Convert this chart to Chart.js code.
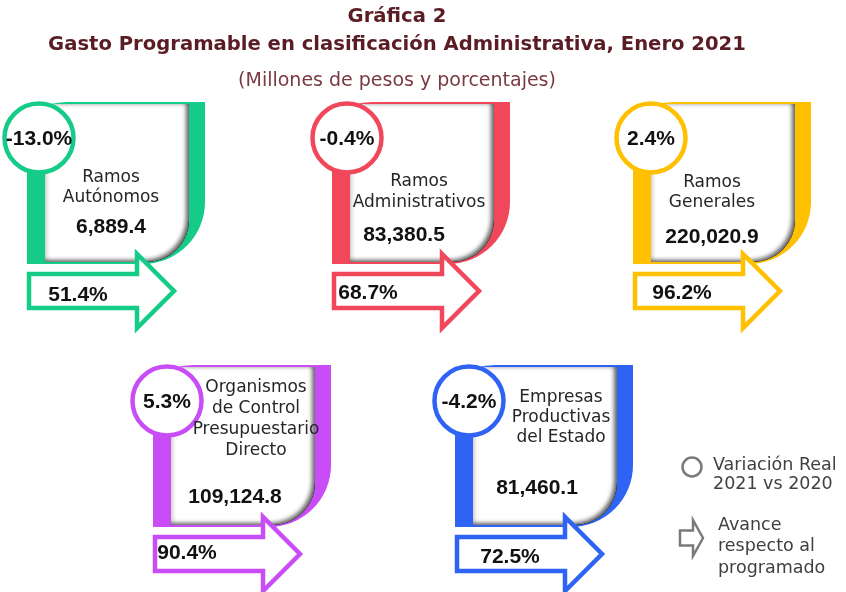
<!DOCTYPE html>
<html>
<head>
<meta charset="utf-8">
<script src="https://cdn.jsdelivr.net/npm/chart.js@4.4.1/dist/chart.umd.min.js"></script>
<style>
    html, body { margin: 0; padding: 0; background: #fff; }
    canvas { display: block; }
</style>
</head>
<body>
<canvas id="grafica" width="846" height="592"></canvas>
<script>
// Datos de la gráfica
var ramos = [
    ['Ramos', 'Autónomos'],
    ['Ramos', 'Administrativos'],
    ['Ramos', 'Generales'],
    ['Organismos', 'de Control', 'Presupuestario', 'Directo'],
    ['Empresas', 'Productivas', 'del Estado']
];
var gasto = [6889.4, 83380.5, 220020.9, 109124.8, 81460.1];
var variacionReal = [-13.0, -0.4, 2.4, 5.3, -4.2];
var avance = [51.4, 68.7, 96.2, 90.4, 72.5];

var colores = ['#14cc88', '#f0475b', '#ffc000', '#c94df6', '#2f63f6'];

// Posición de cada tarjeta (franja izquierda, borde superior) y desplazamientos de textos
var tarjetas = [
    {L: 27, T: 102, cx: 12, tx: 84, ty: 76, lh: 20, vx: 84, vy: 125, ax: 51, ay: 193},
    {L: 332, T: 102, cx: 15, tx: 87, ty: 80, lh: 21, vx: 72, vy: 133, ax: 36, ay: 191},
    {L: 633, T: 102, cx: 18, tx: 79, ty: 81, lh: 20, vx: 79, vy: 135, ax: 49, ay: 191},
    {L: 153, T: 365, cx: 14, tx: 103, ty: 23, lh: 21, vx: 82, vy: 132, ax: 34, ay: 188},
    {L: 455, T: 365, cx: 14, tx: 106, ty: 33, lh: 20, vx: 82, vy: 123, ax: 55, ay: 192}
];

var FUENTE = '"DejaVu Sans", sans-serif';
var FUENTE_NUM = '"Liberation Sans", Arial, sans-serif';

function fmtMonto(v) {
    return v.toLocaleString('en-US', {minimumFractionDigits: 1, maximumFractionDigits: 1});
}

function fmtPct(v) {
    return v.toFixed(1) + '%';
}

function flecha(ctx, x0, yc, body, headX, tipX, headH) {
    ctx.beginPath();
    ctx.moveTo(x0, yc - body);
    ctx.lineTo(headX, yc - body);
    ctx.lineTo(headX, yc - headH);
    ctx.lineTo(tipX, yc);
    ctx.lineTo(headX, yc + headH);
    ctx.lineTo(headX, yc + body);
    ctx.lineTo(x0, yc + body);
    ctx.closePath();
}

function trazoTarjeta(ctx, x1, y1, x2, y2, r) {
    ctx.moveTo(x1, y1);
    ctx.lineTo(x2, y1);
    ctx.lineTo(x2, y2 - r);
    ctx.arcTo(x2, y2, x2 - r, y2, r);
    ctx.lineTo(x1, y2);
    ctx.closePath();
}

function dibujaTarjeta(ctx, t, color, etiqueta, monto, varia, av) {
    var L = t.L, T = t.T;

    // fondo de color
    ctx.save();
    ctx.fillStyle = color;
    ctx.beginPath();
    ctx.moveTo(L, T + 163);
    ctx.lineTo(L, T + 40);
    ctx.quadraticCurveTo(L, T, L + 40, T);
    ctx.lineTo(L + 178, T);
    ctx.lineTo(L + 178, T + 100);
    ctx.arcTo(L + 178, T + 162, L + 117, T + 162, 62);
    ctx.lineTo(L, T + 162);
    ctx.closePath();
    ctx.fill();

    // tarjeta blanca con sombra interior
    var x1 = L + 18, y1 = T + 2, x2 = L + 162, y2 = T + 160, r = 42;
    ctx.beginPath();
    trazoTarjeta(ctx, x1, y1, x2, y2, r);
    ctx.fillStyle = '#ffffff';
    ctx.fill();
    ctx.clip();

    ctx.beginPath();
    ctx.rect(x1 - 60, y1 - 60, x2 - x1 + 120, y2 - y1 + 120);
    trazoTarjeta(ctx, x1, y1, x2, y2, r);
    ctx.fillStyle = '#000000';
    ctx.shadowColor = 'rgba(0, 0, 0, 0.6)';
    ctx.shadowBlur = 4;
    ctx.shadowOffsetX = -3;
    ctx.shadowOffsetY = -2;
    ctx.fill('evenodd');
    ctx.shadowColor = 'rgba(0, 0, 0, 0.18)';
    ctx.shadowBlur = 4;
    ctx.shadowOffsetX = 2;
    ctx.shadowOffsetY = 1;
    ctx.fill('evenodd');
    ctx.restore();

    // flecha de avance
    ctx.save();
    ctx.fillStyle = '#ffffff';
    ctx.strokeStyle = color;
    ctx.lineWidth = 4.5;
    ctx.lineJoin = 'miter';
    flecha(ctx, L + 2, T + 189, 17, L + 110, L + 147, 37);
    ctx.fill();
    ctx.stroke();
    ctx.restore();

    // círculo de variación real
    ctx.save();
    ctx.fillStyle = '#ffffff';
    ctx.strokeStyle = color;
    ctx.lineWidth = 4.5;
    ctx.beginPath();
    ctx.arc(L + t.cx, T + 36, 34.5, 0, Math.PI * 2);
    ctx.fill();
    ctx.stroke();
    ctx.restore();

    // textos
    ctx.save();
    ctx.textAlign = 'center';
    ctx.textBaseline = 'middle';
    ctx.fillStyle = '#262626';
    ctx.font = '17px ' + FUENTE;
    etiqueta.forEach(function(linea, i) {
        ctx.fillText(linea, L + t.tx, T + t.ty + i * t.lh);
    });
    ctx.fillStyle = '#111111';
    ctx.font = 'bold 21px ' + FUENTE_NUM;
    ctx.fillText(fmtMonto(monto), L + t.vx, T + t.vy);
    ctx.fillText(fmtPct(varia), L + t.cx, T + 37);
    ctx.fillText(fmtPct(av), L + t.ax, T + t.ay);
    ctx.restore();
}

var pluginTarjetas = {
    id: 'tarjetas',
    afterDraw: function(chart) {
        var ctx = chart.ctx;
        var ds = chart.data.datasets[0];
        chart.data.labels.forEach(function(etiqueta, i) {
            dibujaTarjeta(ctx, tarjetas[i], colores[i], etiqueta, ds.data[i], variacionReal[i], avance[i]);
        });

        // leyenda
        ctx.save();
        ctx.strokeStyle = '#7a7a7a';
        ctx.lineWidth = 2.5;
        ctx.beginPath();
        ctx.arc(692, 467, 9.5, 0, Math.PI * 2);
        ctx.stroke();
        ctx.lineJoin = 'miter';
        flecha(ctx, 680, 538, 7.5, 693, 703, 18);
        ctx.stroke();
        ctx.fillStyle = '#404040';
        ctx.font = '17.5px ' + FUENTE;
        ctx.textAlign = 'left';
        ctx.textBaseline = 'middle';
        ctx.fillText('Variación Real', 713, 465);
        ctx.fillText('2021 vs 2020', 713, 484);
        ctx.fillText('Avance', 718, 525);
        ctx.fillText('respecto al', 718, 546);
        ctx.fillText('programado', 718, 568);
        ctx.restore();
    }
};

new Chart(document.getElementById('grafica').getContext('2d'), {
    type: 'bar',
    data: {
        labels: ramos,
        datasets: [{
            label: 'Gasto programable',
            data: gasto,
            backgroundColor: 'rgba(0, 0, 0, 0)'
        }]
    },
    options: {
        responsive: false,
        animation: false,
        events: [],
        layout: {
            padding: {top: 3, right: 52}
        },
        scales: {
            x: {display: false},
            y: {display: false}
        },
        plugins: {
            legend: {display: false},
            tooltip: {enabled: false},
            title: {
                display: true,
                text: ['Gráfica 2', 'Gasto Programable en clasificación Administrativa, Enero 2021'],
                color: '#5b1d24',
                font: {family: FUENTE, size: 19.6, weight: 'bold', lineHeight: 1.43},
                padding: {top: 0, bottom: 0}
            },
            subtitle: {
                display: true,
                text: '(Millones de pesos y porcentajes)',
                color: '#7a3a41',
                font: {family: FUENTE, size: 19, weight: 'normal', lineHeight: 1.3},
                padding: {top: 10, bottom: 0}
            }
        }
    },
    plugins: [pluginTarjetas]
});
</script>
</body>
</html>
